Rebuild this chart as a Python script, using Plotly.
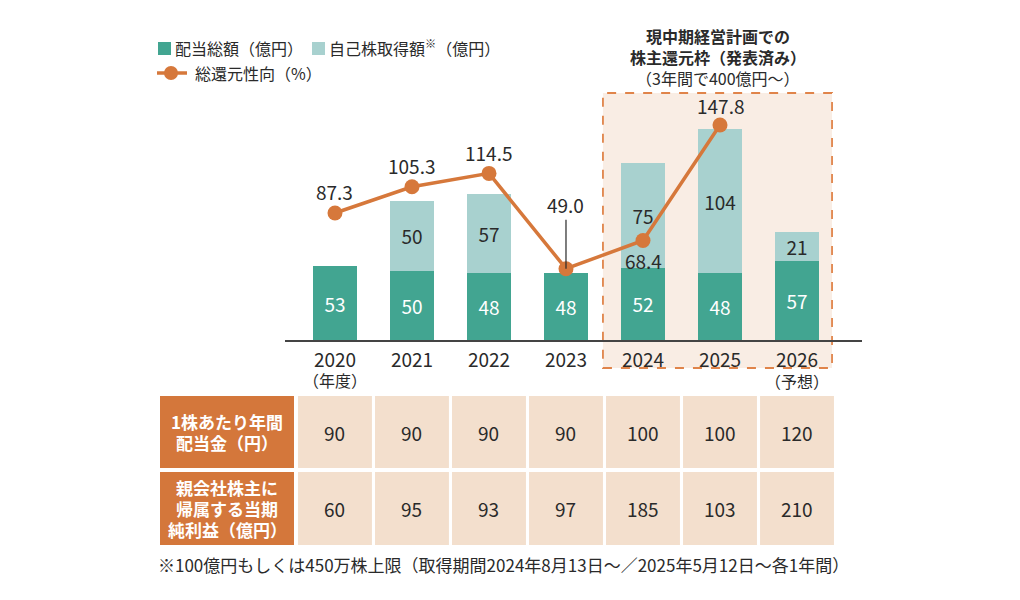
import plotly.graph_objects as go

# ---------------- data ----------------
years = ["2020", "2021", "2022", "2023", "2024", "2025", "2026"]
dividends = [53, 50, 48, 48, 52, 48, 57]              # 配当総額（億円）
buybacks = [None, 50, 57, None, 75, 104, 21]          # 自己株取得額（億円）
payout = [87.3, 105.3, 114.5, 49.0, 68.4, 147.8, None]  # 総還元性向（%）
dps = [90, 90, 90, 90, 100, 100, 120]                 # 1株あたり年間配当金（円）
net_income = [60, 95, 93, 97, 185, 103, 210]          # 親会社株主に帰属する当期純利益（億円）

row_headers = [["1株あたり年間", "配当金（円）"], ["親会社株主に", "帰属する当期", "純利益（億円）"]]
legend_labels = ["配当総額（億円）", "自己株取得額<sup>※</sup>（億円）", "総還元性向（%）"]
note = "※100億円もしくは450万株上限（取得期間2024年8月13日〜／2025年5月12日〜各1年間）"
frame_title = ["<b>現中期経営計画での</b>", "<b>株主還元枠（発表済み）</b>", "（3年間で400億円〜）"]

# ---------------- style ----------------
W, H = 1020, 600
TEAL = "#42a591"
LIGHT = "#a8d1cf"
ORANGE = "#d6783b"
HEAD = "#d4773b"
CELL = "#f3dfcd"
BOXFILL = "#f9ede4"
TXT = "#2a2a2a"
FONT = "Noto Sans CJK JP"
NUM = 19


def px(x):
    return x / W


def py(y):
    return 1 - y / H


fig = go.Figure()

fig.add_trace(go.Bar(
    x=years, y=dividends, name=legend_labels[0], marker=dict(color=TEAL, line=dict(width=0)),
    width=0.56, text=dividends, textposition="inside", insidetextanchor="middle",
    constraintext="none", textangle=0, textfont=dict(color="white", size=NUM, family=FONT),
))
fig.add_trace(go.Bar(
    x=years, y=buybacks, name=legend_labels[1], marker=dict(color=LIGHT, line=dict(width=0)),
    width=0.56, text=buybacks, textposition="inside", insidetextanchor="middle",
    constraintext="none", textangle=0, textfont=dict(color=TXT, size=NUM, family=FONT),
))
fig.add_trace(go.Scatter(
    x=years, y=payout, yaxis="y2", name=legend_labels[2], mode="lines+markers",
    line=dict(color=ORANGE, width=3.5), marker=dict(size=15, color=ORANGE),
    cliponaxis=False,
))

shapes = []
annotations = []

# frame for mid-term plan
shapes.append(dict(type="rect", xref="x", yref="paper", x0=3.48, x1=6.455,
                   y0=py(368), y1=py(93), fillcolor=BOXFILL,
                   line=dict(color="#e0844a", width=1.8, dash="dash"), layer="below"))
for i, t in enumerate(frame_title):
    annotations.append(dict(xref="paper", yref="paper", x=px(718), y=py(36 + 21 * i),
                            text=t, showarrow=False, font=dict(size=16, color=TXT, family=FONT),
                            xanchor="center", yanchor="middle"))

# line labels (category index positions on the x axis)
offsets = [21, 21, 21, None, -20, 19, None]
for i, (v, off) in enumerate(zip(payout, offsets)):
    if v is None:
        continue
    if off is None:
        annotations.append(dict(x=i, y=v, xref="x", yref="y2", text=f"{v:.1f}",
                                showarrow=True, arrowhead=0, arrowwidth=1.2, arrowcolor=TXT,
                                ax=0, ay=-64, standoff=0,
                                font=dict(size=NUM, color=TXT, family=FONT)))
    else:
        annotations.append(dict(x=i, y=v, xref="x", yref="y2", text=f"{v:.1f}",
                                showarrow=False, yshift=off, font=dict(size=NUM, color=TXT, family=FONT),
                                xanchor="center", yanchor="middle"))

# year sub-labels
annotations.append(dict(x=0, y=py(380), xref="x", yref="paper", text="（年度）", showarrow=False,
                        font=dict(size=16, color=TXT, family=FONT), xanchor="center", yanchor="middle"))
annotations.append(dict(x=len(years) - 1, y=py(381), xref="x", yref="paper", text="（予想）", showarrow=False,
                        font=dict(size=16, color=TXT, family=FONT), xanchor="center", yanchor="middle"))

# table
rows = [(396, 468, dps), (472, 545, net_income)]
for r, (top, bot, vals) in enumerate(rows):
    shapes.append(dict(type="rect", xref="paper", yref="paper", x0=px(160), x1=px(294),
                       y0=py(bot), y1=py(top), fillcolor=HEAD, line=dict(width=0)))
    lines = row_headers[r]
    mid = (top + bot) / 2
    for k, ln in enumerate(lines):
        yy = mid + (k - (len(lines) - 1) / 2) * 21
        annotations.append(dict(xref="paper", yref="paper", x=px(227), y=py(yy),
                                text="<b>" + ln + "</b>", showarrow=False,
                                font=dict(size=17, color="white", family=FONT),
                                xanchor="center", yanchor="middle", align="center"))
    for i, v in enumerate(vals):
        shapes.append(dict(type="rect", xref="x", yref="paper", x0=i - 0.48, x1=i + 0.48,
                           y0=py(bot), y1=py(top), fillcolor=CELL, line=dict(width=0)))
        annotations.append(dict(x=i, y=py(mid), xref="x", yref="paper",
                                text=str(v), showarrow=False,
                                font=dict(size=NUM, color=TXT, family=FONT),
                                xanchor="center", yanchor="middle"))

# manual legend
shapes.append(dict(type="rect", xref="paper", yref="paper", x0=px(158), x1=px(171),
                   y0=py(55), y1=py(42), fillcolor=TEAL, line=dict(width=0)))
shapes.append(dict(type="rect", xref="paper", yref="paper", x0=px(312), x1=px(325),
                   y0=py(55), y1=py(42), fillcolor=LIGHT, line=dict(width=0)))
shapes.append(dict(type="line", xref="paper", yref="paper", x0=px(157), x1=px(187),
                   y0=py(73), y1=py(73), line=dict(color=ORANGE, width=3.5)))
shapes.append(dict(type="circle", xref="paper", yref="paper", x0=px(164), x1=px(178),
                   y0=py(80), y1=py(66), fillcolor=ORANGE, line=dict(width=0)))
for (x, y, t) in [(173, 48, legend_labels[0]), (327, 48, legend_labels[1]), (193, 73, legend_labels[2])]:
    annotations.append(dict(xref="paper", yref="paper", x=px(x), y=py(y), text=t, showarrow=False,
                            font=dict(size=16, color=TXT, family=FONT), xanchor="left", yanchor="middle"))

# footnote
annotations.append(dict(xref="paper", yref="paper", x=px(156), y=py(564), text=note, showarrow=False,
                        font=dict(size=17, color=TXT, family=FONT), xanchor="left", yanchor="middle"))

fig.update_layout(
    width=W, height=H, margin=dict(l=0, r=0, t=0, b=0),
    paper_bgcolor="white", plot_bgcolor="rgba(0,0,0,0)",
    barmode="stack", bargap=0.44, showlegend=False,
    font=dict(family=FONT, color=TXT),
    xaxis=dict(domain=[px(285), px(862)], range=[-0.649, 6.844], type="category",
               showline=True, linecolor="#444", linewidth=1.5, showgrid=False, ticks="",
               tickfont=dict(size=NUM, color=TXT, family=FONT), ticklabelstandoff=2,
               anchor="y", fixedrange=True),
    yaxis=dict(domain=[py(340), py(90)], range=[0, 250 / 1.39], visible=False, showgrid=False),
    yaxis2=dict(domain=[py(340), py(90)], range=[0, 250 / 1.455], overlaying="y", visible=False,
                showgrid=False),
    shapes=shapes, annotations=annotations,
)

fig.write_html("out.html")
